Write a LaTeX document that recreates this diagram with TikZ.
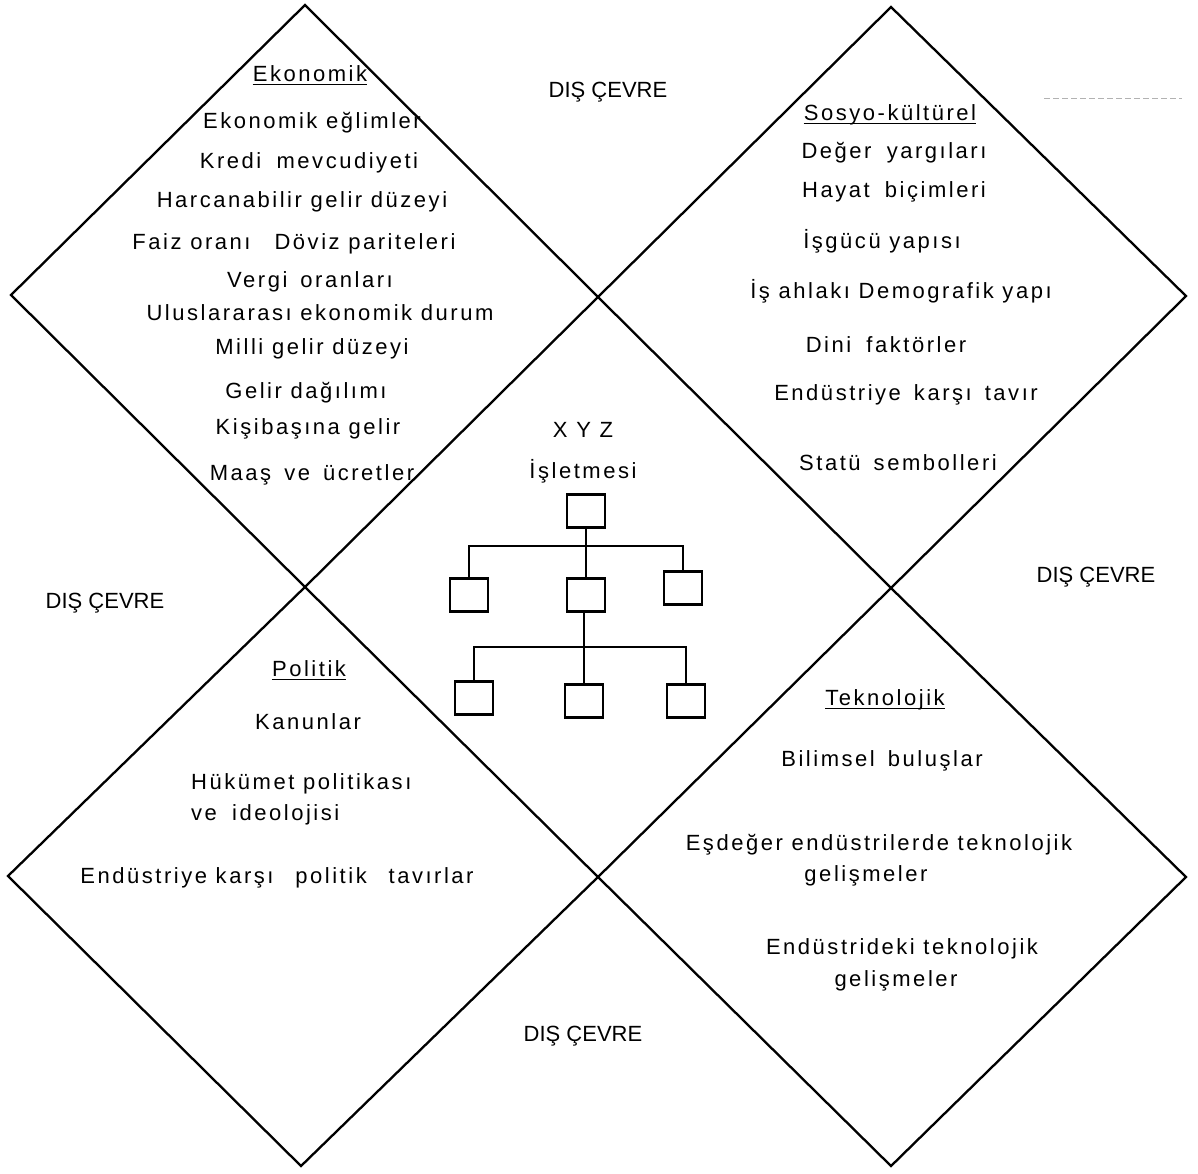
\documentclass[tikz,border=0pt]{standalone}
\usepackage{fontspec}
\setmainfont{Liberation Sans}
\newfontfamily\spcfont[LetterSpace=11.5]{Liberation Sans}
\begin{document}
\begin{tikzpicture}[x=1pt,y=-1pt,
  diam/.style={line width=2.3pt, line join=miter},
  lbl/.style={font=\spcfont\fontsize{22}{26}\selectfont, inner sep=0pt, anchor=base},
  envtxt/.style={font=\fontsize{22}{26}\selectfont, inner sep=0pt, anchor=base},
  uline/.style={line width=1.3pt},
  orgbox/.style={draw, line width=2.6pt, minimum width=38pt, minimum height=33pt, inner sep=0pt},
  conn/.style={line width=2.2pt},
  noise/.style={line width=0.6pt, gray!60, dash pattern=on 6pt off 3pt}]
\useasboundingbox (0,0) rectangle (1198,1173);
% grid of diamond vertices
\coordinate (A) at (305,5);
\coordinate (B) at (891,7);
\coordinate (L1) at (11,295);
\coordinate (C1) at (598,297);
\coordinate (R1) at (1186,296);
\coordinate (M1) at (305,587);
\coordinate (M2) at (891,588);
\coordinate (L2) at (8,876);
\coordinate (C2) at (598,877);
\coordinate (R2) at (1186,877);
\coordinate (D1) at (301,1166);
\coordinate (D2) at (891,1166);
% diamonds
\draw[diam] (A) -- (L1) -- (M1) -- (C1) -- cycle;
\draw[diam] (B) -- (C1) -- (M2) -- (R1) -- cycle;
\draw[diam] (M1) -- (L2) -- (D1) -- (C2) -- cycle;
\draw[diam] (M2) -- (C2) -- (D2) -- (R2) -- cycle;
% faint scan line
\draw[noise] (1044,98) -- (1182,98);
% DIS CEVRE labels
\node[envtxt] (envT) at (608,97) {DIŞ ÇEVRE};
\node[envtxt] (envR) at (1096,582) {DIŞ ÇEVRE};
\node[envtxt] (envL) at (105,608) {DIŞ ÇEVRE};
\node[envtxt] (envB) at (583,1041) {DIŞ ÇEVRE};
% Ekonomik
\node[lbl] (eko) at (310,81) {Ekonomik};
\draw[uline] ([yshift=-3.5pt]eko.base west) -- ([yshift=-3.5pt]eko.base east);
\node[lbl] (e1) at (312,128) {Ekonomik eğlimler};
\node[lbl] (e2) at (309,168) {Kredi\hspace{0.3em} mevcudiyeti};
\node[lbl] (e3) at (302,207) {Harcanabilir gelir düzeyi};
\node[lbl] (e4) at (294,249) {Faiz oranı\hspace{0.7em} Döviz pariteleri};
\node[lbl] (e5) at (310,287) {Vergi\hspace{0.2em} oranları};
\node[lbl] (e6) at (320,320) {Uluslararası ekonomik durum};
\node[lbl] (e7) at (312,354) {Milli gelir düzeyi};
\node[lbl] (e8) at (306,398) {Gelir dağılımı};
\node[lbl] (e9) at (308,434) {Kişibaşına gelir};
\node[lbl] (e10) at (312,480) {Maaş\hspace{0.2em} ve\hspace{0.2em} ücretler};
% Sosyo-kulturel
\node[lbl] (sos) at (890,120) {Sosyo-kültürel};
\draw[uline] ([yshift=-3.5pt]sos.base west) -- ([yshift=-3.5pt]sos.base east);
\node[lbl] (s1) at (894,158) {Değer\hspace{0.3em} yargıları};
\node[lbl] (s2) at (894,197) {Hayat\hspace{0.3em} biçimleri};
\node[lbl] (s3) at (882,248) {İşgücü yapısı};
\node[lbl] (s4) at (901,298) {İş ahlakı Demografik yapı};
\node[lbl] (s5) at (886,352) {Dini\hspace{0.3em} faktörler};
\node[lbl] (s6) at (906,400) {Endüstriye\hspace{0.2em} karşı\hspace{0.2em} tavır};
\node[lbl] (s7) at (898,470) {Statü\hspace{0.2em} sembolleri};
% centre
\node[lbl] (xyz) at (583,437) {X Y Z};
\node[lbl] (isl) at (583,478) {İşletmesi};
\node[orgbox] (top) at (586,511) {};
\node[orgbox] (m1) at (469,595) {};
\node[orgbox] (m2) at (586,595) {};
\node[orgbox] (m3) at (683,588) {};
\node[orgbox] (b1) at (474,698) {};
\node[orgbox] (b2) at (584,701) {};
\node[orgbox] (b3) at (686,701) {};
\coordinate (j1) at (586,546);
\coordinate (j2) at (584,647);
\draw[conn] (top.south) -- (j1);
\draw[conn] (m1.north) |- (j1) -| (m3.north);
\draw[conn] (j1) -- (m2.north);
\draw[conn] (m2.south -| j2) -- (j2);
\draw[conn] (b1.north) |- (j2) -| (b3.north);
\draw[conn] (j2) -- (b2.north);
% Politik
\node[lbl] (pol) at (309,676) {Politik};
\draw[uline] ([yshift=-3.5pt]pol.base west) -- ([yshift=-3.5pt]pol.base east);
\node[lbl] (p1) at (308,729) {Kanunlar};
\node[lbl,anchor=base west] (p2) at (191,789) {Hükümet politikası};
\node[lbl,anchor=base west] (p3) at (191,820) {ve\hspace{0.3em} ideolojisi};
\node[lbl] (p4) at (277,883) {Endüstriye karşı\hspace{0.6em} politik\hspace{0.6em} tavırlar};
% Teknolojik
\node[lbl] (tek) at (885,705) {Teknolojik};
\draw[uline] ([yshift=-3.5pt]tek.base west) -- ([yshift=-3.5pt]tek.base east);
\node[lbl] (t1) at (882,766) {Bilimsel\hspace{0.2em} buluşlar};
\node[lbl] (t2) at (879,850) {Eşdeğer endüstrilerde teknolojik};
\node[lbl] (t3) at (866,881) {gelişmeler};
\node[lbl] (t4) at (902,954) {Endüstrideki teknolojik};
\node[lbl] (t5) at (896,986) {gelişmeler};
\end{tikzpicture}
\end{document}
